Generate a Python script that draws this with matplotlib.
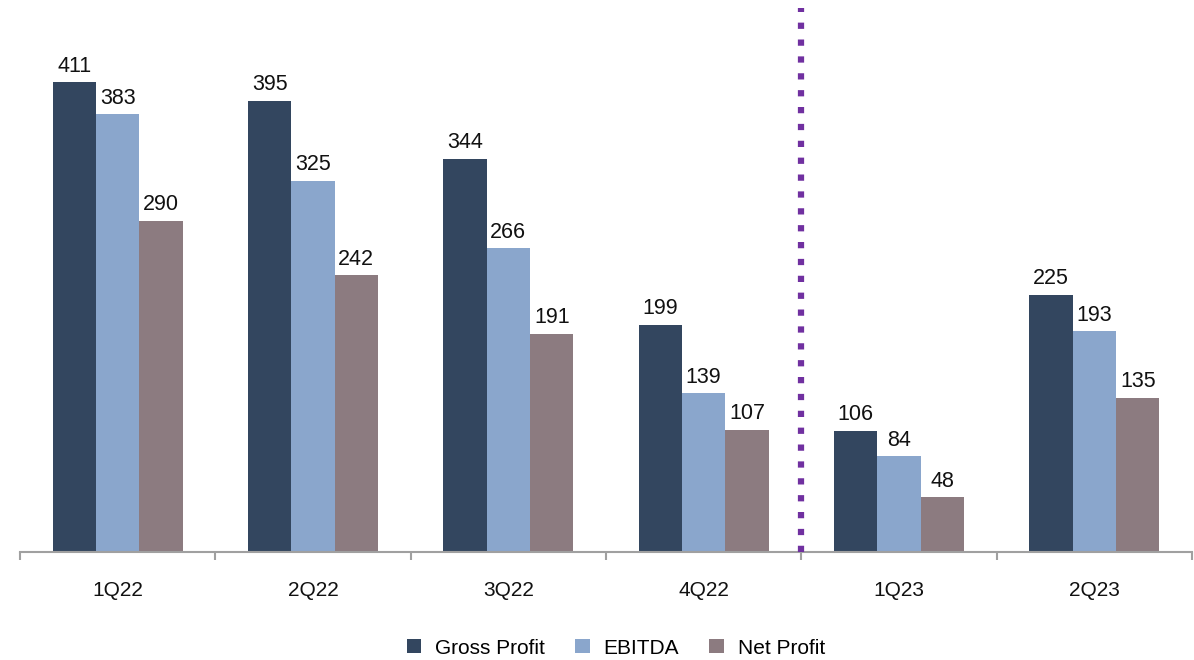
import matplotlib.pyplot as plt
import numpy as np

plt.rcParams['font.family'] = ['Liberation Sans', 'DejaVu Sans']

# Data (USD mn)
quarters = ['1Q22', '2Q22', '3Q22', '4Q22', '1Q23', '2Q23']
gross_profit = [411, 395, 344, 199, 106, 225]
ebitda = [383, 325, 266, 139, 84, 193]
net_profit = [290, 242, 191, 107, 48, 135]

series = [('Gross Profit', gross_profit, '#33465f'),
          ('EBITDA', ebitda, '#8aa6cc'),
          ('Net Profit', net_profit, '#8c7b80')]

fig = plt.figure(figsize=(11.94, 6.6), dpi=100)
ax = fig.add_axes([20 / 1194, 108 / 660, 1172 / 1194, 544 / 660])

x = np.arange(len(quarters))
w = 0.222
for i, (name, vals, col) in enumerate(series):
    bars = ax.bar(x + (i - 1) * w, vals, w, color=col, label=name, zorder=2)
    for b, v in zip(bars, vals):
        ax.annotate(str(v), (b.get_x() + b.get_width() / 2, v),
                    xytext=(0, 7.5), textcoords='offset points',
                    ha='center', va='baseline', fontsize=15.5, color='#111111')

# divider between 2022 and 2023
ax.axvline(3.5, color='#7030a0', lw=4.5, linestyle=(0, (1, 1.7)), zorder=3)

ax.set_xlim(-0.5, len(quarters) - 0.5)
ax.set_ylim(0, 476)
ax.set_yticks([])
for s in ['left', 'right', 'top']:
    ax.spines[s].set_visible(False)
ax.spines['bottom'].set_color('#a0a0a0')
ax.spines['bottom'].set_linewidth(1.5)

ax.set_xticks(x)
ax.set_xticklabels(quarters, fontsize=15, color='#111111')
ax.tick_params(axis='x', which='major', length=0, pad=21)
ax.set_xticks(np.arange(-0.5, len(quarters)), minor=True)
ax.tick_params(axis='x', which='minor', length=6, width=1.5, color='#a0a0a0')

fig.legend(loc='center', bbox_to_anchor=(616 / 1194, 1 - 648 / 660), ncol=3,
           frameon=False, fontsize=15, handlelength=0.68, handleheight=0.68,
           handletextpad=0.68, columnspacing=1.45)

fig.savefig('out.png', dpi=100)
